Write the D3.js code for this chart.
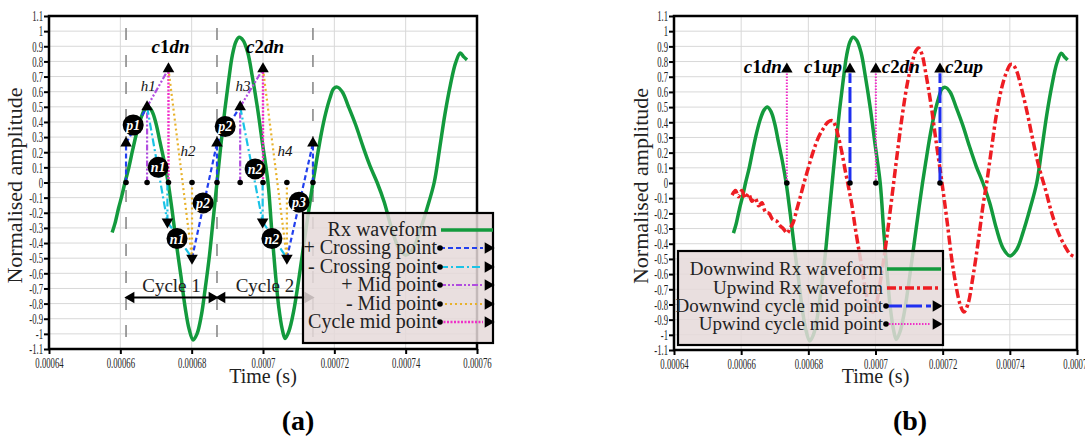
<!DOCTYPE html>
<html lang="en">
<head>
<meta charset="UTF-8">
<title>Rx waveform cycle detection</title>
<script src="https://d3js.org/d3.v7.min.js"></script>
<style>
  body { margin: 0; background: #fff; }
  svg text { font-family: "Liberation Serif", "Times New Roman", serif; }
</style>
</head>
<body>
<div id="chart"></div>
<script>
// axis ticks (time kept in microseconds, labels in seconds)
const xTicks = [640, 660, 680, 700, 720, 740, 760];
const xTickLabels = ['0.00064', '0.00066', '0.00068', '0.0007', '0.00072', '0.00074', '0.00076'];
const yTicks = [1.1, 1, 0.9, 0.8, 0.7, 0.6, 0.5, 0.4, 0.3, 0.2, 0.1, 0, -0.1, -0.2, -0.3, -0.4, -0.5, -0.6, -0.7, -0.8, -0.9, -1, -1.1];
const yTickLabels = ['1.1', '1', '0.9', '0.8', '0.7', '0.6', '0.5', '0.4', '0.3', '0.2', '0.1', '0', '-0.1', '-0.2', '-0.3', '-0.4', '-0.5', '-0.6', '-0.7', '-0.8', '-0.9', '-1', '-1.1'];

// downwind Rx waveform [time us, amplitude]
const downwind = [
  [657.7, -0.33], [658.5, -0.27], [659.5, -0.17], [660.4, -0.09], [661.3, 0.0], [662.4, 0.1], [663.5, 0.22],
  [664.6, 0.33], [665.7, 0.42], [666.8, 0.48], [667.8, 0.50], [668.9, 0.47], [670.0, 0.39], [671.1, 0.27],
  [672.3, 0.14], [673.4, 0.0], [674.6, -0.2], [675.8, -0.42], [677.0, -0.62], [678.2, -0.83], [679.3, -0.97],
  [680.4, -1.04], [681.5, -1.0], [682.7, -0.88], [683.8, -0.7], [685.0, -0.48], [686.0, -0.25], [687.1, 0.0],
  [688.2, 0.25], [689.3, 0.48], [690.4, 0.68], [691.4, 0.84], [692.4, 0.93], [693.3, 0.96], [694.4, 0.94],
  [695.7, 0.86], [697.0, 0.7], [698.4, 0.5], [699.9, 0.25], [701.4, 0.0], [702.4, -0.3], [703.4, -0.58],
  [704.4, -0.82], [705.4, -0.97], [706.2, -1.03], [707.3, -0.98], [708.6, -0.85], [709.9, -0.66], [711.2, -0.45],
  [712.6, -0.22], [714.0, 0.0], [715.2, 0.17], [716.4, 0.33], [717.6, 0.46], [718.8, 0.56], [719.8, 0.62],
  [720.8, 0.63], [722.2, 0.6], [724.0, 0.5], [726.0, 0.38], [728.0, 0.24], [730.0, 0.11], [732.0, 0.0],
  [734.0, -0.13], [736.0, -0.3], [738.0, -0.43], [740.0, -0.48], [742.0, -0.44], [744.0, -0.32], [746.0, -0.17],
  [748.0, 0.0], [749.5, 0.22], [751.0, 0.45], [752.5, 0.64], [754.0, 0.79], [755.3, 0.855], [756.3, 0.83], [757.2, 0.81]
];

// upwind Rx waveform [time us, amplitude]
const upwind = [
  [657.3, -0.08], [658.3, -0.05], [659.2, -0.09], [660.2, -0.05], [661.2, -0.1], [662.2, -0.07], [663.2, -0.12],
  [664.2, -0.1], [665.2, -0.15], [666.2, -0.13], [667.2, -0.19], [668.3, -0.2], [669.4, -0.24], [670.5, -0.25],
  [671.5, -0.28], [672.5, -0.3], [673.7, -0.33], [674.5, -0.3], [675.5, -0.26], [676.5, -0.18], [677.5, -0.1],
  [678.7, 0.0], [680.0, 0.1], [681.5, 0.21], [683.0, 0.3], [684.5, 0.36], [685.8, 0.4], [687.2, 0.41], [688.0, 0.38],
  [689.0, 0.3], [690.0, 0.2], [691.0, 0.08], [692.0, -0.03], [693.0, -0.15], [694.0, -0.3], [695.5, -0.5],
  [697.0, -0.7], [698.2, -0.82], [699.2, -0.85], [700.2, -0.8], [701.5, -0.64], [702.8, -0.45], [704.0, -0.25],
  [705.4, 0.0], [706.8, 0.25], [708.2, 0.48], [709.6, 0.67], [711.0, 0.8], [712.0, 0.87], [712.8, 0.89],
  [713.8, 0.85], [715.0, 0.72], [716.5, 0.52], [718.0, 0.28], [719.8, 0.0], [721.3, -0.25], [722.7, -0.5],
  [724.0, -0.68], [725.2, -0.8], [726.3, -0.85], [727.5, -0.8], [729.0, -0.62], [730.5, -0.4], [732.0, -0.15],
  [733.1, 0.0], [734.5, 0.22], [736.0, 0.45], [737.5, 0.62], [739.0, 0.73], [740.2, 0.78], [740.9, 0.78],
  [742.0, 0.74], [743.5, 0.62], [745.0, 0.48], [746.7, 0.3], [748.5, 0.12], [750.7, -0.05], [752.5, -0.2],
  [754.5, -0.33], [756.5, -0.42], [758.0, -0.47], [759.7, -0.49]
];

// (a) detected points [time us, amplitude]
const crossPos = [[661.6, 0.26], [687.1, 0.26], [714.0, 0.26]];
const midPos = [[667.5, 0.5], [693.6, 0.5]];
const cycleMid = [[673.5, 0.75], [700.0, 0.75]];
const crossNeg = [[673.2, -0.26], [699.9, -0.26]];
const midNeg = [[680.1, -0.5], [706.7, -0.5]];
const cycleBounds = [661.6, 687.1, 714.0];
const cycleNames = ['Cycle 1', 'Cycle 2'];
const peakTags = ['p1', 'n1', 'n1', 'p2', 'p2', 'n2', 'n2', 'p3'];
const peakTagPos = [[663.6, 0.38], [670.6, 0.1], [675.9, -0.37], [683.2, -0.135], [689.4, 0.37], [697.8, 0.09], [702.5, -0.37], [710.1, -0.13]];
const hTags = ['h1', 'h2', 'h3', 'h4'];
const hTagPos = [[667.8, 0.64], [679.0, 0.21], [694.4, 0.64], [706.2, 0.21]];
const cTagsA = ['c1dn', 'c2dn'];

// (b) cycle mid points
const dnMid = [673.6, 700.1];
const upMid = [692.4, 719.2];
const midLevel = 0.75;
const dnTags = ['c1dn', 'c2dn'];
const upTags = ['c1up', 'c2up'];

const st = {
  wave: { stroke: '#139a3d', width: 3.5, dash: null },
  posCross: { stroke: '#2240ee', width: 2.2, dash: '5,3' },
  negCross: { stroke: '#1ac3e6', width: 2.2, dash: '8,3,2,3' },
  posMid: { stroke: '#b04ddf', width: 2.2, dash: '6,2,2,2,2,2' },
  negMid: { stroke: '#e8b22a', width: 2.2, dash: '2,3' },
  cycMid: { stroke: '#f02fc8', width: 2.4, dash: '2,1.5' },
  up: { stroke: '#ee1d23', width: 3.5, dash: '9,3,3,3' },
  dnLine: { stroke: '#1f2ff0', width: 3, dash: '16,4' },
  upLine: { stroke: '#f02fc8', width: 2, dash: '1.5,1.5' }
};

const svg = d3.select('#chart').append('svg').attr('width', 1085).attr('height', 437);

function squeeze(sel, k) {
  sel.each(function () {
    const w = this.getComputedTextLength();
    d3.select(this).attr('textLength', w * k).attr('lengthAdjust', 'spacingAndGlyphs');
  });
}

function styled(sel, s) {
  sel.attr('stroke', s.stroke).attr('stroke-width', s.width).attr('fill', 'none');
  if (s.dash) sel.attr('stroke-dasharray', s.dash);
  return sel;
}

function panel(box) {
  const x = d3.scaleLinear().domain([640, 760]).range([box.left, box.right]);
  const y = d3.scaleLinear().domain([-1.1, 1.1]).range([box.bottom, box.top]);
  const g = svg.append('g');
  g.append('g').selectAll('line').data(yTicks).join('line')
    .attr('x1', box.left).attr('x2', box.right)
    .attr('y1', d => y(d)).attr('y2', d => y(d))
    .attr('stroke', '#d8d8d8');
  g.append('g').selectAll('line').data(xTicks).join('line')
    .attr('x1', d => x(d)).attr('x2', d => x(d))
    .attr('y1', box.top).attr('y2', box.bottom)
    .attr('stroke', '#d8d8d8');

  const yAxis = g.append('g').attr('transform', `translate(${box.left},0)`)
    .call(d3.axisLeft(y).tickValues(yTicks).tickFormat(d => yTickLabels[yTicks.indexOf(d)])
      .tickSize(5).tickSizeOuter(0).tickPadding(1));
  const xAxis = g.append('g').attr('transform', `translate(0,${box.bottom})`)
    .call(d3.axisBottom(x).tickValues(xTicks).tickFormat(d => xTickLabels[xTicks.indexOf(d)])
      .tickSize(5).tickSizeOuter(0).tickPadding(3));
  [yAxis, xAxis].forEach(a => {
    a.select('.domain').remove();
    a.selectAll('line').attr('stroke', '#000').attr('stroke-width', 2);
    a.selectAll('text').attr('font-family', 'Liberation Serif').attr('font-size', 15).attr('fill', '#222');
    squeeze(a.selectAll('text'), 0.58);
  });

  const plot = g.append('g');
  g.append('rect')
    .attr('x', box.left).attr('y', box.top)
    .attr('width', box.right - box.left).attr('height', box.bottom - box.top)
    .attr('fill', 'none').attr('stroke', '#000').attr('stroke-width', 2.5);

  g.append('text')
    .attr('transform', `translate(${box.titleX},${(box.top + box.bottom) / 2 + 3}) rotate(-90)`)
    .attr('text-anchor', 'middle').attr('font-size', 22).attr('fill', '#222')
    .text('Normalised amplitude');
  g.append('text')
    .attr('x', x(700)).attr('y', 383)
    .attr('text-anchor', 'middle').attr('font-size', 20).attr('fill', '#222')
    .text('Time (s)');
  g.append('text')
    .attr('x', box.capX).attr('y', 430)
    .attr('text-anchor', 'middle').attr('font-size', 28).attr('font-weight', 'bold')
    .text(box.caption);

  return { g, plot, x, y };
}

const line = (x, y) => d3.line().x(d => x(d[0])).y(d => y(d[1]));
const tri = d3.symbol(d3.symbolTriangle, 58);

function triangle(g, px, py, rot) {
  g.append('path').attr('d', tri()).attr('fill', '#000')
    .attr('transform', `translate(${px},${py}) rotate(${rot})`);
}

function cTag(sel, label) {
  sel.attr('font-size', 19).attr('font-weight', 'bold');
  sel.append('tspan').attr('font-style', 'italic').text(label[0]);
  sel.append('tspan').text(label[1]);
  sel.append('tspan').attr('font-style', 'italic').text(label.slice(2));
}

function legend(g, box, rows) {
  g.append('rect')
    .attr('x', box.x0).attr('y', box.y0)
    .attr('width', box.x1 - box.x0).attr('height', box.y1 - box.y0)
    .attr('fill', '#e5d9d9').attr('fill-opacity', 0.85)
    .attr('stroke', '#000').attr('stroke-width', 2.2);
  rows.forEach((r, i) => {
    const by = box.rowY[i];
    const ly = by - 6;
    g.append('text').attr('x', box.textX).attr('y', by)
      .attr('text-anchor', 'end').attr('font-size', box.fs).attr('fill', '#222')
      .text(r.label);
    if (r.arrow) {
      styled(g.append('line'), r.s)
        .attr('x1', box.textX + 3).attr('x2', box.tipX - 5).attr('y1', ly).attr('y2', ly);
      g.append('circle').attr('cx', box.textX + 3).attr('cy', ly).attr('r', 2.8).attr('fill', '#000');
      triangle(g, box.tipX, ly, 90);
    } else {
      styled(g.append('line'), r.s)
        .attr('x1', box.textX + 4).attr('x2', box.tipX + 5).attr('y1', ly).attr('y2', ly);
    }
  });
}

// ---------- (a) ----------
const A = panel({ left: 49, right: 477, top: 16, bottom: 349, titleX: 22, capX: 298, caption: '(a)' });
{
  const { plot, x, y } = A;
  // cycle boundaries
  plot.append('g').selectAll('line').data(cycleBounds).join('line')
    .attr('x1', d => x(d)).attr('x2', d => x(d))
    .attr('y1', y(1.02)).attr('y2', y(-1.07))
    .attr('stroke', '#8a8a8a').attr('stroke-width', 1.6).attr('stroke-dasharray', '12,15');

  styled(plot.append('path').datum(downwind), st.wave)
    .attr('stroke-linejoin', 'round')
    .attr('d', line(x, y).curve(d3.curveCatmullRom));

  const m = plot.append('g');
  const seg = (p, q, s) => styled(m.append('line'), s)
    .attr('x1', x(p[0])).attr('y1', y(p[1])).attr('x2', x(q[0])).attr('y2', y(q[1]));
  const stems = [[crossPos, st.posCross], [midPos, st.posMid], [cycleMid, st.cycMid], [crossNeg, st.negCross], [midNeg, st.negMid]];
  stems.forEach(([pts, s]) => pts.forEach(p => seg([p[0], 0], p, s)));
  midPos.forEach((p, i) => {
    seg(crossPos[i], p, st.posCross);
    seg(p, crossNeg[i], st.negCross);
    seg(crossNeg[i], midNeg[i], st.negCross);
    seg(midNeg[i], crossPos[i + 1], st.posCross);
    seg(p, cycleMid[i], st.posMid);
    seg(cycleMid[i], midNeg[i], st.negMid);
  });
  [crossPos, midPos, cycleMid].forEach(pts => pts.forEach(p => triangle(m, x(p[0]), y(p[1]), 0)));
  [crossNeg, midNeg].forEach(pts => pts.forEach(p => triangle(m, x(p[0]), y(p[1]), 180)));
  [crossPos, midPos, cycleMid, midNeg].forEach(pts => pts.forEach(p =>
    m.append('circle').attr('cx', x(p[0])).attr('cy', y(0)).attr('r', 2.8).attr('fill', '#000')));

  // peak tags
  const tags = m.append('g').selectAll('g').data(peakTags).join('g')
    .attr('transform', (d, i) => `translate(${x(peakTagPos[i][0])},${y(peakTagPos[i][1])})`);
  tags.append('circle').attr('r', 10.5).attr('fill', '#000');
  tags.append('text').attr('text-anchor', 'middle').attr('dy', 5)
    .attr('font-size', 14).attr('font-style', 'italic').attr('font-weight', 'bold').attr('fill', '#fff')
    .text(d => d);

  m.append('g').selectAll('text').data(hTags).join('text')
    .attr('x', (d, i) => x(hTagPos[i][0])).attr('y', (d, i) => y(hTagPos[i][1]) + 5)
    .attr('text-anchor', 'middle').attr('font-size', 15).attr('font-style', 'italic').attr('fill', '#111')
    .text(d => d);

  cycleMid.forEach((p, i) => {
    m.append('text').attr('x', x(p[0]) + 2).attr('y', y(p[1]) - 16)
      .attr('text-anchor', 'middle').call(cTag, cTagsA[i]);
  });

  // cycle spans
  const spanY = y(-0.76);
  cycleNames.forEach((name, i) => {
    const x0 = x(cycleBounds[i]), x1 = x(cycleBounds[i + 1]);
    m.append('line').attr('x1', x0 + 2).attr('x2', x1 - 2).attr('y1', spanY).attr('y2', spanY)
      .attr('stroke', '#000').attr('stroke-width', 2);
    triangle(m, x0 + 5, spanY, -90);
    triangle(m, x1 - 5, spanY, 90);
    m.append('text').attr('x', (x0 + x1) / 2).attr('y', spanY - 6)
      .attr('text-anchor', 'middle').attr('font-size', 19).attr('fill', '#222').text(name);
  });

  legend(A.g, { x0: 303, x1: 493, y0: 213, y1: 343, textX: 437, tipX: 488, fs: 20, rowY: [236, 254, 273, 291, 310, 328] }, [
    { label: 'Rx waveform', s: st.wave },
    { label: '+ Crossing point', s: st.posCross, arrow: true },
    { label: '- Crossing point', s: st.negCross, arrow: true },
    { label: '+ Mid point', s: st.posMid, arrow: true },
    { label: '- Mid point', s: st.negMid, arrow: true },
    { label: 'Cycle mid point', s: st.cycMid, arrow: true }
  ]);
}

// ---------- (b) ----------
const B = panel({ left: 674, right: 1077, top: 16, bottom: 350, titleX: 648, capX: 910, caption: '(b)' });
{
  const { plot, x, y } = B;
  styled(plot.append('path').datum(downwind), st.wave)
    .attr('stroke-linejoin', 'round')
    .attr('d', line(x, y).curve(d3.curveCatmullRom));
  styled(plot.append('path').datum(upwind), st.up)
    .attr('d', line(x, y).curve(d3.curveCatmullRom));

  const m = plot.append('g');
  const mark = (t, s, label, anchor, dx) => {
    styled(m.append('line'), s)
      .attr('x1', x(t)).attr('x2', x(t)).attr('y1', y(0)).attr('y2', y(midLevel) + 4);
    triangle(m, x(t), y(midLevel), 0);
    m.append('circle').attr('cx', x(t)).attr('cy', y(0)).attr('r', 2.8).attr('fill', '#000');
    m.append('text').attr('x', x(t) + dx).attr('y', y(midLevel) + 4)
      .attr('text-anchor', anchor).call(cTag, label);
  };
  mark(dnMid[0], st.upLine, dnTags[0], 'end', -5);
  mark(upMid[0], st.dnLine, upTags[0], 'end', -8);
  mark(dnMid[1], st.upLine, dnTags[1], 'start', 6);
  mark(upMid[1], st.dnLine, upTags[1], 'start', 5);

  legend(B.g, { x0: 678, x1: 943, y0: 251, y1: 345, textX: 883, tipX: 936, fs: 19, rowY: [275, 294, 312, 330] }, [
    { label: 'Downwind Rx waveform', s: st.wave },
    { label: 'Upwind Rx waveform', s: st.up },
    { label: 'Downwind cycle mid point', s: st.dnLine, arrow: true },
    { label: 'Upwind cycle mid point', s: st.upLine, arrow: true }
  ]);
}
</script>
</body>
</html>
